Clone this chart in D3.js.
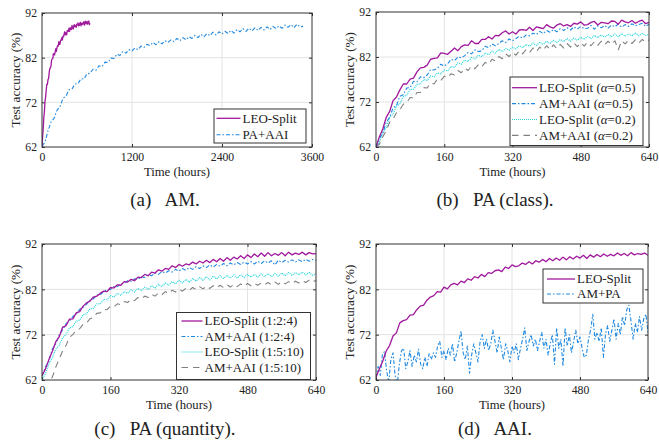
<!DOCTYPE html>
<html>
<head>
<meta charset="utf-8">
<script src="https://cdn.jsdelivr.net/npm/d3@7"></script>
<style>
  body { margin: 0; background: #fff; }
  svg text { font-family: "Liberation Serif", "Times New Roman", serif; fill: #222; }
</style>
</head>
<body>
<div id="viz"></div>
<script>
// ---- data ----
const yTicks = [62, 72, 82, 92];
const amTicks = [0, 1200, 2400, 3600];
const hourTicks = [0, 160, 320, 480, 640];

// sampling interval (hours) of the stored curves
const stepFine = 8;
const stepAm = 40;
const stepNoisy = 5;

// (b) PA (class), one value every 8 h from 0 to 640
const classLeo05 = [62.0, 64.3, 66.0, 68.6, 69.9, 72.3, 73.1, 74.7, 76.0, 76.0, 77.1, 77.3, 78.7, 79.6, 79.7, 80.2,
  81.5, 81.7, 81.8, 82.9, 82.8, 82.6, 83.3, 84.0, 83.4, 84.3, 84.7, 84.6, 85.6, 85.0, 85.0, 85.9, 85.9, 86.5, 86.0,
  86.8, 86.7, 87.4, 87.8, 87.1, 87.6, 87.1, 88.0, 88.1, 87.9, 88.6, 87.9, 88.7, 88.5, 88.3, 89.2, 88.7, 88.4, 89.1,
  89.4, 88.9, 89.2, 88.8, 89.5, 89.3, 89.8, 89.1, 89.2, 89.7, 89.9, 89.1, 89.7, 89.6, 89.4, 90.0, 89.9, 89.3, 90.2,
  89.8, 89.6, 90.1, 89.5, 89.9, 90.2, 89.4, 89.7];
const classAai05 = [62.0, 63.9, 65.1, 67.5, 68.6, 70.7, 71.2, 73.3, 73.6, 75.1, 75.2, 76.6, 76.5, 77.6, 77.4, 78.0,
  79.2, 79.1, 79.5, 80.4, 80.0, 80.5, 81.5, 81.2, 82.0, 81.8, 82.3, 83.0, 82.7, 83.6, 83.2, 83.4, 84.4, 84.1, 84.9,
  84.5, 85.0, 85.6, 85.2, 86.0, 85.6, 86.1, 86.6, 86.2, 86.9, 86.7, 87.3, 87.0, 87.7, 87.2, 87.9, 87.5, 88.1, 87.6,
  88.3, 87.9, 88.5, 88.0, 88.7, 88.2, 88.8, 88.3, 88.4, 89.0, 88.2, 88.9, 88.5, 89.0, 88.4, 89.1, 88.7, 89.3, 88.6,
  89.2, 88.8, 89.4, 88.9, 89.2, 89.5, 88.8, 89.3];
const classLeo02 = [62.0, 63.1, 65.2, 66.3, 68.6, 69.3, 71.1, 71.6, 73.2, 73.5, 74.8, 74.8, 75.9, 76.0, 77.0, 76.8,
  77.8, 77.6, 78.5, 78.2, 79.1, 78.9, 79.9, 79.7, 80.7, 80.4, 81.3, 81.0, 81.9, 81.6, 82.4, 82.1, 82.9, 82.5, 83.3,
  82.9, 83.7, 83.2, 83.9, 83.5, 84.2, 83.8, 84.5, 84.1, 84.8, 84.4, 85.1, 84.6, 85.3, 84.8, 85.5, 85.0, 85.7, 85.2,
  85.9, 85.4, 86.1, 85.5, 86.2, 85.7, 86.4, 85.9, 86.6, 86.1, 86.8, 86.3, 86.9, 86.4, 87.0, 86.5, 87.1, 86.5, 87.2,
  86.6, 87.1, 86.7, 87.3, 86.7, 87.2, 86.8, 87.0];
const classAai02 = [62.0, 62.6, 64.3, 65.6, 67.5, 68.2, 69.6, 70.3, 71.5, 71.9, 73.0, 72.9, 74.1, 74.1, 75.2, 75.1,
  76.2, 76.0, 77.1, 76.8, 77.7, 77.4, 78.3, 78.0, 79.0, 78.5, 79.5, 79.0, 80.0, 79.4, 80.3, 79.8, 80.8, 80.4, 81.5,
  81.1, 82.1, 81.6, 82.7, 82.1, 83.0, 82.4, 83.4, 82.7, 83.7, 83.0, 84.0, 83.2, 84.2, 83.5, 84.5, 83.7, 84.7, 83.9,
  84.8, 84.0, 85.0, 84.2, 85.1, 84.3, 85.2, 84.4, 85.3, 84.5, 85.4, 84.6, 85.5, 84.7, 85.5, 84.8, 85.6, 83.6, 85.6,
  84.9, 85.7, 85.0, 85.8, 85.1, 85.9, 85.3, 85.8];

// (c) PA (quantity), every 8 h
const qtyLeo124 = [63.0, 64.4, 66.5, 68.3, 70.4, 71.5, 73.6, 74.0, 75.4, 75.5, 76.8, 77.1, 78.3, 79.0, 79.4, 80.3,
  80.5, 81.1, 81.6, 81.5, 82.4, 82.3, 83.0, 82.9, 83.7, 83.6, 84.2, 83.9, 84.7, 84.6, 85.3, 85.0, 85.8, 85.6, 86.3,
  86.0, 86.6, 86.4, 87.2, 86.8, 87.5, 87.1, 87.6, 87.4, 88.0, 87.6, 88.2, 87.8, 88.4, 87.9, 88.6, 88.1, 88.8, 88.2,
  89.0, 88.4, 89.1, 88.7, 89.4, 88.8, 89.6, 89.0, 89.8, 89.2, 90.0, 89.3, 90.1, 89.4, 89.9, 89.5, 90.1, 89.4, 90.2,
  89.6, 90.0, 89.7, 90.2, 89.6, 90.1, 89.8, 89.9];
const qtyAai124 = [62.8, 64.9, 66.1, 68.8, 69.9, 71.9, 73.0, 74.4, 75.0, 76.0, 76.5, 77.6, 78.0, 78.7, 79.6, 79.9,
  80.7, 80.8, 81.5, 81.9, 82.0, 82.6, 82.6, 83.2, 83.3, 83.9, 83.8, 84.3, 84.2, 84.8, 84.6, 85.2, 85.0, 85.6, 85.3,
  85.9, 85.6, 86.1, 85.8, 86.4, 86.0, 86.6, 86.2, 86.8, 86.4, 87.0, 86.6, 87.2, 86.8, 87.4, 86.9, 87.5, 87.1, 87.7,
  87.2, 87.8, 87.4, 87.9, 87.5, 88.0, 87.6, 88.1, 87.6, 88.2, 87.7, 88.3, 87.8, 88.3, 87.4, 88.4, 87.9, 88.4, 88.0,
  88.5, 88.0, 88.5, 88.1, 88.6, 88.2, 88.6, 88.4];
const qtyLeo1510 = [62.0, 63.4, 65.5, 66.9, 68.8, 69.6, 71.3, 72.0, 73.5, 73.8, 75.0, 75.2, 76.4, 76.6, 77.7, 77.8,
  78.8, 78.8, 79.8, 79.7, 80.6, 80.3, 81.1, 80.7, 81.5, 81.1, 81.9, 81.4, 82.2, 81.7, 82.5, 82.0, 82.8, 82.3, 83.1,
  82.6, 83.4, 82.9, 83.7, 83.2, 84.0, 83.4, 84.2, 83.6, 84.4, 83.8, 84.6, 84.0, 84.8, 84.1, 84.9, 84.3, 85.0, 84.4,
  85.1, 84.5, 85.2, 84.5, 85.2, 84.6, 85.3, 84.7, 85.3, 84.7, 85.4, 84.8, 85.4, 84.8, 85.5, 84.9, 85.6, 85.0, 85.7,
  85.1, 85.7, 85.2, 85.8, 85.2, 85.7, 85.1, 85.4];
const qtyAai1510 = [61.0, 61.3, 61.8, 62.6, 64.8, 66.6, 68.4, 69.6, 71.4, 72.0, 73.0, 73.3, 74.3, 74.6, 75.5, 75.8,
  76.7, 76.8, 77.6, 77.5, 78.3, 78.1, 78.8, 78.6, 79.3, 79.1, 79.8, 79.5, 80.2, 79.9, 80.5, 80.2, 80.9, 80.5, 81.2,
  80.8, 81.5, 81.1, 81.8, 81.4, 82.0, 81.6, 82.2, 81.8, 82.4, 82.0, 82.6, 82.1, 82.7, 82.2, 82.8, 82.3, 82.9, 82.4,
  83.0, 82.5, 83.1, 82.6, 83.2, 82.7, 83.3, 82.8, 83.3, 82.9, 83.4, 83.0, 83.5, 83.0, 83.6, 83.1, 83.7, 83.2, 83.7,
  83.3, 83.8, 83.4, 83.9, 83.5, 84.0, 83.6, 84.0];

// (d) AAI: LEO-Split every 8 h, AM+PA every 5 h
const aaiLeo = [62.6, 64.5, 66.2, 68.4, 69.6, 71.7, 72.4, 74.6, 75.1, 75.3, 76.3, 76.4, 77.5, 78.3, 78.5, 79.6,
  80.3, 80.6, 81.5, 81.4, 82.5, 82.1, 83.0, 83.3, 83.0, 83.8, 83.5, 84.3, 84.0, 84.8, 84.5, 85.3, 84.8, 85.7, 85.5,
  86.1, 86.3, 85.9, 86.9, 86.6, 87.4, 87.0, 87.2, 87.8, 87.5, 88.1, 87.6, 88.3, 88.0, 88.6, 88.1, 88.8, 88.3, 88.9,
  88.4, 89.1, 88.5, 89.2, 88.7, 89.3, 88.9, 89.5, 88.8, 89.6, 89.1, 89.7, 89.2, 89.8, 89.3, 89.7, 89.4, 90.0, 89.5,
  89.9, 89.4, 90.1, 89.6, 89.9, 89.7, 90.0, 89.5];
const aaiAmPa = [62.5, 65.0, 63.0, 67.5, 68.3, 64.0, 61.5, 66.5, 68.0, 63.0, 61.0, 65.5, 68.5, 69.0, 64.5, 66.0,
  68.5, 65.0, 67.5, 66.0, 68.8, 65.5, 64.5, 67.0, 65.0, 67.8, 66.5, 68.0, 67.0, 69.5, 70.5, 67.0, 68.5, 66.5, 69.0,
  67.5, 70.0, 66.0, 68.0, 70.5, 72.8, 68.0, 66.5, 69.5, 63.5, 67.5, 70.0, 68.0, 66.0, 70.5, 72.0, 69.0, 71.0, 68.5,
  70.0, 73.0, 70.5, 68.0, 71.5, 69.0, 66.5, 70.0, 68.5, 66.0, 69.5, 68.0, 70.0, 66.5, 69.0, 71.0, 73.5, 68.5, 70.5,
  72.0, 69.5, 71.0, 68.5, 70.5, 72.5, 69.0, 71.0, 67.5, 70.0, 72.0, 65.5, 73.5, 69.0, 71.0, 65.0, 73.5, 69.5, 72.0,
  68.0, 70.5, 73.0, 70.0, 71.5, 69.0, 67.0, 67.5, 71.0, 73.0, 76.5, 71.0, 72.5, 70.5, 73.5, 67.0, 72.0, 74.0, 70.5,
  73.0, 75.5, 71.0, 74.5, 72.0, 76.0, 74.0, 77.5, 78.5, 75.0, 71.0, 74.5, 72.5, 76.0, 73.0, 75.5, 76.5, 72.5];

// (a) AM: PA+AAI every 40 h from 0 to 3480 (LEO-Split is the run shown in (b))
const amPaAai = [62.2, 63.1, 65.6, 67.6, 68.4, 70.2, 71.1, 72.9, 73.4, 74.8, 75.0, 76.1, 76.2, 77.3, 77.2, 78.4,
  78.5, 79.4, 79.2, 80.2, 80.0, 81.0, 80.9, 81.9, 81.8, 82.8, 82.5, 83.4, 83.0, 83.8, 83.5, 84.2, 83.8, 84.6, 84.3,
  85.0, 84.7, 85.4, 84.9, 85.6, 85.1, 85.8, 85.4, 86.0, 85.6, 86.3, 85.8, 86.5, 86.0, 86.7, 86.3, 87.0, 86.5, 87.2,
  86.7, 87.4, 86.9, 87.7, 87.1, 87.8, 87.3, 87.9, 87.4, 88.1, 87.5, 88.3, 87.8, 88.5, 87.9, 88.6, 88.0, 88.7, 88.1,
  88.8, 88.2, 88.9, 88.3, 89.0, 88.5, 89.1, 88.6, 89.3, 88.8, 89.4, 88.7, 89.5, 88.9, 89.0];

// ---- styles ----
const fontFamily = 'Liberation Serif, serif';
const lineStyles = {
  leo:   {color: '#a0199d', dash: null, width: 1.3},
  blue:  {color: '#1f89e0', dash: '4,2,1.5,2', width: 1.1},
  cyan:  {color: '#22d2dc', dash: '1,1', width: 1.2},
  gray:  {color: '#808080', dash: '6.5,5', width: 1.1}
};

const panels = [
  {x: 42, y: 13, w: 270, h: 134, xMax: 3600, xTicks: amTicks, capX: 165, capY: 206,
   caption: '(a)\u2002 AM.',
   series: [
     {name: 'LEO-Split', values: classLeo05, step: stepFine, style: 'leo'},
     {name: 'PA+AAI', values: amPaAai, step: stepAm, style: 'blue'}],
   legend: {x: 214, y: 109, w: 92, h: 34, first: 9.3, gap: 16.5, sx: 216.5, sw: 24}},
  {x: 376, y: 12, w: 273, h: 135, xMax: 640, xTicks: hourTicks, capX: 495, capY: 206,
   caption: '(b)\u2002 PA (class).',
   series: [
     {name: 'LEO-Split', alpha: '0.5', values: classLeo05, step: stepFine, style: 'leo'},
     {name: 'AM+AAI', alpha: '0.5', values: classAai05, step: stepFine, style: 'blue'},
     {name: 'LEO-Split', alpha: '0.2', values: classLeo02, step: stepFine, style: 'cyan'},
     {name: 'AM+AAI', alpha: '0.2', values: classAai02, step: stepFine, style: 'gray'}],
   legend: {x: 510, y: 77, w: 133, h: 68.5, first: 10.7, gap: 15.9, sx: 512, sw: 25}},
  {x: 42, y: 244, w: 274, h: 136, xMax: 640, xTicks: hourTicks, capX: 165, capY: 434.5,
   caption: '(c)\u2002 PA (quantity).',
   series: [
     {name: 'LEO-Split (1:2:4)', values: qtyLeo124, step: stepFine, style: 'leo'},
     {name: 'AM+AAI (1:2:4)', values: qtyAai124, step: stepFine, style: 'blue'},
     {name: 'LEO-Split (1:5:10)', values: qtyLeo1510, step: stepFine, style: 'cyan'},
     {name: 'AM+AAI (1:5:10)', values: qtyAai1510, step: stepFine, style: 'gray'}],
   legend: {x: 176.5, y: 312.5, w: 134, h: 67, first: 8.5, gap: 15.5, sx: 181.5, sw: 21}},
  {x: 376, y: 244, w: 272, h: 136, xMax: 640, xTicks: hourTicks, capX: 495, capY: 434.5,
   caption: '(d)\u2002 AAI.',
   series: [
     {name: 'LEO-Split', values: aaiLeo, step: stepFine, style: 'leo'},
     {name: 'AM+PA', values: aaiAmPa, step: stepNoisy, style: 'blue'}],
   legend: {x: 543, y: 269, w: 100, h: 34, first: 10, gap: 15, sx: 547, sw: 28}}
];

const svg = d3.select('#viz')
  .append('svg')
    .attr('width', 659)
    .attr('height', 443)
    .attr('viewBox', [0, 0, 659, 443])
    .attr('font-family', fontFamily);

const drawPanel = (p, idx) => {
  const xScale = d3.scaleLinear().domain([0, p.xMax]).range([p.x, p.x + p.w]);
  const yScale = d3.scaleLinear().domain([62, 92]).range([p.y + p.h, p.y]);
  const g = svg.append('g');

  // grid
  g.append('g').selectAll('line').data(p.xTicks.slice(1, -1)).join('line')
    .attr('x1', d => xScale(d)).attr('x2', d => xScale(d))
    .attr('y1', p.y).attr('y2', p.y + p.h)
    .attr('stroke', '#e3e3e3').attr('stroke-width', 1);
  g.append('g').selectAll('line').data(yTicks.slice(1, -1)).join('line')
    .attr('x1', p.x).attr('x2', p.x + p.w)
    .attr('y1', d => yScale(d)).attr('y2', d => yScale(d))
    .attr('stroke', '#e3e3e3').attr('stroke-width', 1);

  // axes with inward ticks
  g.append('g')
    .attr('transform', `translate(0, ${p.y + p.h})`)
    .call(d3.axisBottom(xScale).tickValues(p.xTicks).tickSize(-3).tickPadding(6).tickFormat(d3.format('d')));
  g.append('g')
    .attr('transform', `translate(${p.x}, 0)`)
    .call(d3.axisLeft(yScale).tickValues(yTicks).tickSize(-3).tickPadding(5));
  g.append('g')
    .attr('transform', `translate(0, ${p.y})`)
    .call(d3.axisTop(xScale).tickValues(p.xTicks).tickSize(-3).tickFormat(''));
  g.append('g')
    .attr('transform', `translate(${p.x + p.w}, 0)`)
    .call(d3.axisRight(yScale).tickValues(yTicks).tickSize(-3).tickFormat(''));
  g.selectAll('g').attr('font-family', fontFamily);
  g.selectAll('.domain').remove();
  g.selectAll('.tick line').attr('stroke', '#333');
  g.selectAll('.tick text')
    .style('font-size', '11.7px')
    .attr('fill', '#222');

  // curves
  const clipId = 'clip' + idx;
  g.append('clipPath').attr('id', clipId)
    .append('rect').attr('x', p.x).attr('y', p.y).attr('width', p.w).attr('height', p.h);
  const line = d3.line().x(d => xScale(d[0])).y(d => yScale(d[1]));
  p.series.slice().reverse().forEach(s => {
    const st = lineStyles[s.style];
    g.append('path')
      .attr('clip-path', `url(#${clipId})`)
      .attr('d', line(s.values.map((v, i) => [i * s.step, v])))
      .attr('fill', 'none')
      .attr('stroke', st.color)
      .attr('stroke-width', st.width)
      .attr('stroke-dasharray', st.dash)
      .attr('stroke-linejoin', 'round');
  });

  // frame
  g.append('rect')
    .attr('x', p.x).attr('y', p.y).attr('width', p.w).attr('height', p.h)
    .attr('fill', 'none').attr('stroke', '#333').attr('stroke-width', 1);

  // axis labels
  g.append('text')
    .attr('x', p.x + p.w / 2).attr('y', p.y + p.h + 29)
    .attr('text-anchor', 'middle')
    .style('font-size', '12.7px')
    .text('Time (hours)');
  g.append('text')
    .attr('transform', `translate(${p.x - 22}, ${p.y + p.h / 2}) rotate(-90)`)
    .attr('text-anchor', 'middle')
    .style('font-size', '13.2px')
    .text('Test accuracy (%)');

  // legend
  const L = p.legend;
  const lg = g.append('g');
  lg.append('rect')
    .attr('x', L.x).attr('y', L.y).attr('width', L.w).attr('height', L.h)
    .attr('fill', '#fff').attr('stroke', '#333').attr('stroke-width', 1);
  p.series.forEach((s, i) => {
    const st = lineStyles[s.style];
    const ry = L.y + L.first + i * L.gap;
    lg.append('line')
      .attr('x1', L.sx).attr('x2', L.sx + L.sw).attr('y1', ry).attr('y2', ry)
      .attr('stroke', st.color).attr('stroke-width', st.width)
      .attr('stroke-dasharray', st.dash);
    const t = lg.append('text')
      .attr('x', L.sx + L.sw + 2).attr('y', ry + 4.3)
      .style('font-size', '13px');
    if (s.alpha) {
      t.append('tspan').text(s.name + ' (');
      t.append('tspan').style('font-style', 'italic').text('\u03b1');
      t.append('tspan').text('=' + s.alpha + ')');
    } else {
      t.text(s.name);
    }
  });

  // caption
  svg.append('text')
    .attr('x', p.capX).attr('y', p.capY)
    .attr('text-anchor', 'middle')
    .style('font-size', '19px')
    .style('white-space', 'pre')
    .text(p.caption);
};

panels.forEach(drawPanel);
</script>
</body>
</html>
